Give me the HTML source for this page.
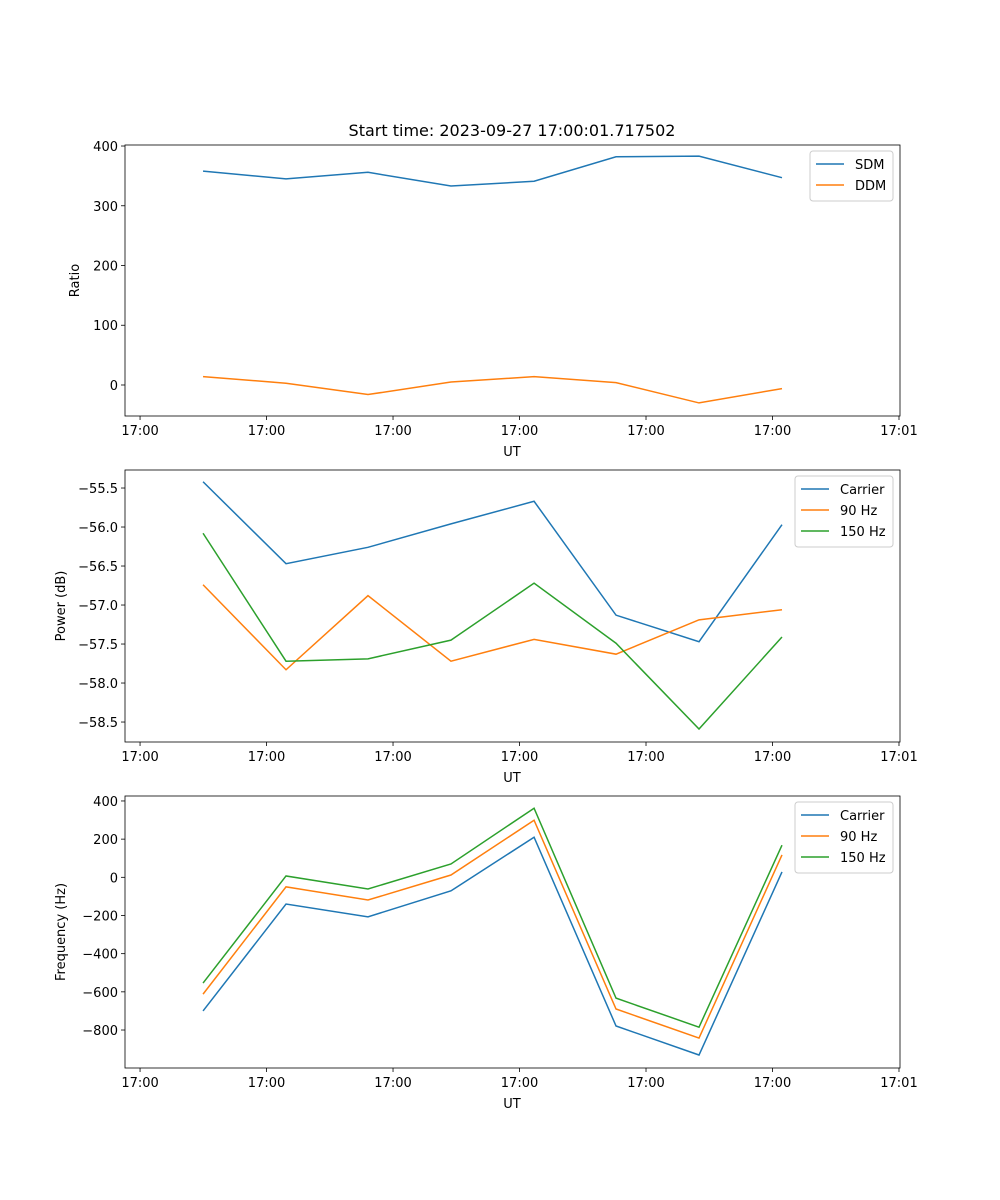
<!DOCTYPE html>
<html><head><meta charset="utf-8"><style>
body{margin:0;background:#fff}
svg{display:block;font-family:"DejaVu Sans","Liberation Sans",sans-serif}
</style></head><body>
<svg id="fig" width="1000" height="1200" xmlns="http://www.w3.org/2000/svg">
<text x="512" y="136" font-size="16" text-anchor="middle">Start time: 2023-09-27 17:00:01.717502</text>
</svg>
<script>
const times = [4.98, 11.54, 18.02, 24.58, 31.15, 37.63, 44.19, 50.75];
const xTicks = [0, 10, 20, 30, 40, 50, 60];
const xTickLabels = ["17:00","17:00","17:00","17:00","17:00","17:00","17:01"];
const sdm = [358, 345, 356, 333, 341, 382, 383, 347];
const ddm = [14, 3, -16, 5, 14, 4, -30, -6];
const powCarrier = [-55.42, -56.47, -56.26, -55.96, -55.67, -57.13, -57.47, -55.97];
const pow90 = [-56.74, -57.83, -56.88, -57.72, -57.44, -57.63, -57.19, -57.06];
const pow150 = [-56.08, -57.72, -57.69, -57.45, -56.72, -57.49, -58.59, -57.41];
const freqCarrier = [-700, -140, -207, -71, 210, -779, -931, 28];
const freq90 = [-612, -50, -119, 12, 299, -690, -842, 117];
const freq150 = [-554, 7, -61, 70, 362, -633, -785, 168];
const ticks1 = [0, 100, 200, 300, 400];
const ticks2 = [-58.5, -58.0, -57.5, -57.0, -56.5, -56.0, -55.5];
const ticks3 = [-800, -600, -400, -200, 0, 200, 400];

const NS = "http://www.w3.org/2000/svg";
const svg = document.getElementById("fig");
function mk(tag, attrs, parent){const e=document.createElementNS(NS,tag);for(const k in attrs)e.setAttribute(k,attrs[k]);(parent||svg).appendChild(e);return e;}
const C=["#1f77b4","#ff7f0e","#2ca02c"];
const L=125,R=900,XMIN=-1.19,XMAX=60.08;
const xs=t=>L+(t-XMIN)/(XMAX-XMIN)*(R-L);

function panel(name,top,bot,ymin,ymax,yt,fmt,ylabel,series,names,legX,legW){
  const g=mk("g",{});
  
  
  const ys=v=>bot-(v-ymin)/(ymax-ymin)*(bot-top);
  xTicks.forEach((t,i)=>{
    const x=xs(t);
    mk("line",{x1:x,x2:x,y1:bot,y2:bot+4,stroke:"#000","stroke-width":0.8},g);
    const tx=mk("text",{x:x,y:bot+19,"font-size":13,"text-anchor":"middle"},g);
    tx.textContent=xTickLabels[i];
    
    
  });
  yt.forEach(v=>{
    const y=ys(v);
    mk("line",{x1:L-4,x2:L,y1:y,y2:y,stroke:"#000","stroke-width":0.8},g);
    const tx=mk("text",{x:L-7,y:y+5,"font-size":13,"text-anchor":"end"},g);
    tx.textContent=fmt(v);
    
    
  });
  const xl=mk("text",{x:512,y:bot+40,"font-size":13,"text-anchor":"middle"},g);
  xl.textContent="UT";
  
  
  const yc=(top+bot)/2;
  const yl=mk("text",{x:0,y:0,"font-size":13,"text-anchor":"middle",transform:`translate(${name==="ratio"?79:65},${yc}) rotate(-90)`},g);
  yl.textContent=ylabel;
  
  
  series.forEach((s,i)=>{
    const p=mk("polyline",{points:s.map((v,j)=>xs(times[j])+","+ys(v)).join(" "),fill:"none",stroke:C[i],"stroke-width":1.5},g);
    
    
  });
  mk("rect",{x:L,y:top,width:R-L,height:bot-top,fill:"none",stroke:"#000","stroke-width":0.8},g);
  const lg=mk("g",{},g);
  
  
  const lt=top+6;
  mk("rect",{x:legX,y:lt,width:legW,height:8+names.length*21,rx:3,fill:"#fff",stroke:"#ccc","fill-opacity":0.8},lg);
  names.forEach((n,i)=>{
    const y=lt+13+i*21;
    mk("line",{x1:legX+6,x2:legX+34,y1:y,y2:y,stroke:C[i],"stroke-width":1.5},lg);
    const tx=mk("text",{x:legX+45,y:y+5,"font-size":13},lg);
    tx.textContent=n;
    
    
  });
}
panel("ratio",145,416,-51.9,401.7,ticks1,v=>String(v),"Ratio",[sdm,ddm],["SDM","DDM"],810,83);
panel("power",470,742,-58.756,-55.269,ticks2,v=>v.toFixed(1).replace("-","\u2212"),"Power (dB)",[powCarrier,pow90,pow150],["Carrier","90 Hz","150 Hz"],795,98);
panel("frequency",796,1068,-999,426,ticks3,v=>String(v).replace("-","\u2212"),"Frequency (Hz)",[freqCarrier,freq90,freq150],["Carrier","90 Hz","150 Hz"],795,98);
</script>
</body></html>
